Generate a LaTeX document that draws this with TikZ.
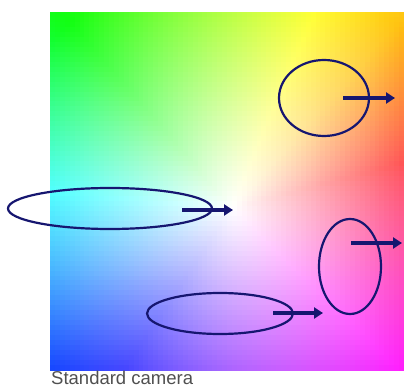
\documentclass[tikz,border=0pt]{standalone}
\usepackage{fontspec}
\setmainfont{Liberation Sans}
\usetikzlibrary{shapes.geometric,arrows.meta}
\definecolor{navy}{RGB}{22,22,112}
\definecolor{captiongray}{RGB}{80,80,80}
\tikzset{
  ring/.style={draw=navy, line width=2.2pt, ellipse, inner sep=0pt},
  shift arrow/.style={draw=navy, line width=3.6pt, -{Triangle[length=9pt,width=11pt]}},
  caption/.style={anchor=base west, text=captiongray, inner sep=0pt, font=\fontsize{18.5}{20}\selectfont}
}
\begin{document}
\begin{tikzpicture}[x=1pt,y=-1pt]
\useasboundingbox (0,0) rectangle (404,387);
\fill[white] (0,0) rectangle (404,387);
% colour square
\pgfmathsetmacro\cw{354/72}
\pgfmathsetmacro\ch{358/72}
\begin{scope}
\clip (50,12) rectangle (404,370);
\foreach \i in {0,...,71} {
  \foreach \j in {0,...,71} {
    \pgfmathsetmacro\dx{50+(\i+0.5)*\cw-232}
    \pgfmathsetmacro\dy{208-(12+(\j+0.5)*\ch)}
    \pgfmathsetmacro\ang{atan2(\dy,\dx)}
    \pgfmathsetmacro\ang{\ang<11 ? \ang+360 : \ang}
    \pgfmathsetmacro\hu{\ang<48 ? -5+(\ang-11)*1.35135 : (\ang<65 ? 45+(\ang-48)*0.76471 : (\ang<133 ? 58+(\ang-65)*0.94118 : (\ang<175 ? 122+(\ang-133)*1.38095 : (\ang<222 ? 180+(\ang-175)*1.02128 : (\ang<270 ? 228+(\ang-222)*0.83333 : (\ang<316 ? 268+(\ang-270)*0.69565 : 300+(\ang-316)))))))}
    \pgfmathsetmacro\hu{\hu<0 ? \hu+360 : \hu}
    \pgfmathsetmacro\hf{\hu/360}
    \pgfmathsetmacro\sat{min(0.93, veclen(\dx,\dy)/265)}
    \definecolor{cellc}{hsb}{\hf,\sat,1}
    \fill[cellc] (50+\i*\cw,12+\j*\ch) rectangle ++(\cw+0.6,\ch+0.6);
  }
}
\end{scope}
% ellipses
\node[ring, minimum width=90pt, minimum height=76pt] (e1) at (324,98) {};
\node[ring, minimum width=204pt, minimum height=41pt] (e2) at (110,208.5) {};
\node[ring, minimum width=62pt, minimum height=95pt] (e3) at (350,266.5) {};
\node[ring, minimum width=146pt, minimum height=41pt] (e4) at (220,313.5) {};
% arrows
\coordinate (a1s) at (343,98);  \coordinate (a1e) at (395,98);
\coordinate (a2s) at (182,210); \coordinate (a2e) at (233,210);
\coordinate (a3s) at (351,243); \coordinate (a3e) at (402,243);
\coordinate (a4s) at (273,313); \coordinate (a4e) at (323,313);
\draw[shift arrow] (a1s) -- (a1e);
\draw[shift arrow] (a2s) -- (a2e);
\draw[shift arrow] (a3s) -- (a3e);
\draw[shift arrow] (a4s) -- (a4e);
% caption
\node[caption] (cap) at (51,384.5) {Standard camera};
\end{tikzpicture}
\end{document}
